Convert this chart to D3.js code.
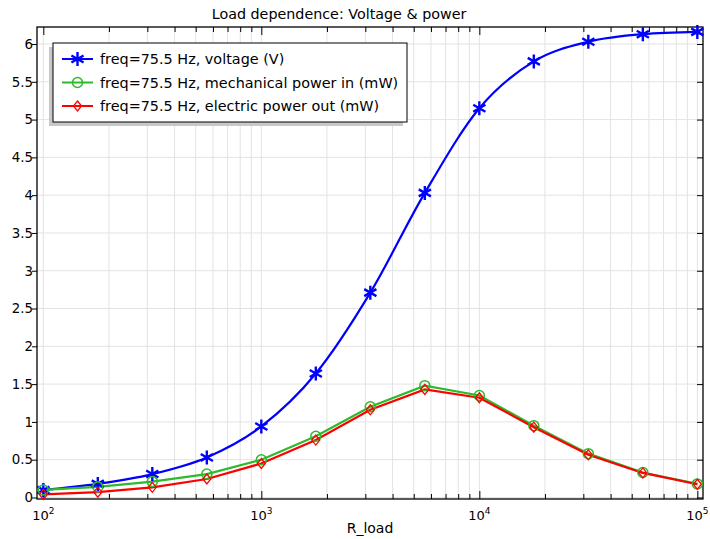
<!DOCTYPE html>
<html><head><meta charset="utf-8">
<script src="https://cdn.jsdelivr.net/npm/d3@7"></script>
<style>body{margin:0;background:#fff;} text{font-family:"DejaVu Sans",sans-serif;}</style>
</head><body>
<svg id="c" width="710" height="539"></svg>
<script>
const rLoad = [100, 177.8, 316.2, 562.3, 1000, 1778, 3162, 5623, 10000, 17783, 31623, 56234, 100000];
const voltage = [0.10, 0.18, 0.31, 0.53, 0.94, 1.64, 2.71, 4.03, 5.15, 5.77, 6.03, 6.13, 6.16];
const mechPower = [0.10, 0.14, 0.21, 0.31, 0.50, 0.81, 1.20, 1.48, 1.35, 0.95, 0.58, 0.33, 0.18];
const elecPower = [0.04, 0.07, 0.135, 0.245, 0.45, 0.76, 1.16, 1.43, 1.32, 0.93, 0.565, 0.325, 0.175];
const seriesNames = ["freq=75.5 Hz, voltage (V)", "freq=75.5 Hz, mechanical power in (mW)", "freq=75.5 Hz, electric power out (mW)"];
const yTicks = [0, 0.5, 1, 1.5, 2, 2.5, 3, 3.5, 4, 4.5, 5, 5.5, 6];
const xMajor = [100, 1000, 10000, 100000];
const xExp = ["2", "3", "4", "5"];

const svg = d3.select("#c");
const L = 37, R = 703, T = 27, B = 499;
const x = d3.scaleLog().domain([Math.pow(10, 1.971), Math.pow(10, 5.026)]).range([L, R]);
const y = d3.scaleLinear().domain([-0.02, 6.225]).range([B, T]);

const xMinor = [];
for (let d = 100; d <= 10000; d *= 10) for (let k = 2; k <= 9; k++) xMinor.push(d * k);

// grid
const g = svg.append("g");
g.selectAll("line.vg").data(xMinor.concat(xMajor)).join("line")
  .attr("x1", d => x(d)).attr("x2", d => x(d)).attr("y1", T).attr("y2", B)
  .attr("stroke", "#e3e3e3").attr("stroke-width", 1);
g.selectAll("line.hg").data(yTicks).join("line")
  .attr("x1", L).attr("x2", R).attr("y1", d => y(d)).attr("y2", d => y(d))
  .attr("stroke", "#e3e3e3").attr("stroke-width", 1);

// axes (ticks inward, mirrored)
const axB = d3.axisBottom(x).tickValues(xMajor).tickSize(-8).tickFormat("");
const axBm = d3.axisBottom(x).tickValues(xMinor).tickSize(-5).tickFormat("");
const axT = d3.axisTop(x).tickValues(xMajor).tickSize(-8).tickFormat("");
const axTm = d3.axisTop(x).tickValues(xMinor).tickSize(-5).tickFormat("");
const axL = d3.axisLeft(y).tickValues(yTicks).tickSize(6).tickFormat(d3.format("~g"));
const axR = d3.axisRight(y).tickValues(yTicks).tickSize(-6).tickFormat("");
function styleAx(sel){ sel.select(".domain").remove(); sel.selectAll("line").attr("stroke","#000"); }
svg.append("g").attr("transform",`translate(0,${B})`).call(axB).call(styleAx);
svg.append("g").attr("transform",`translate(0,${B})`).call(axBm).call(styleAx);
svg.append("g").attr("transform",`translate(0,${T})`).call(axT).call(styleAx);
svg.append("g").attr("transform",`translate(0,${T})`).call(axTm).call(styleAx);
const gl = svg.append("g").attr("transform",`translate(${L},0)`).call(axL).call(styleAx);
gl.selectAll("text").attr("font-size", 13.4).attr("font-family","DejaVu Sans").attr("fill","#000").attr("x", -4);
gl.selectAll("line").attr("x2", -5);
svg.append("g").attr("transform",`translate(${R},0)`).call(axR).call(styleAx);

// x tick labels 10^n
const xl = svg.append("g");
xMajor.forEach((v, i) => {
  const t = xl.append("text").attr("x", x(v)).attr("y", 520).attr("text-anchor","middle").attr("font-size", 13);
  t.append("tspan").text("10");
  t.append("tspan").attr("dy", -6).attr("font-size", 9).text(xExp[i]);
});

// frame
svg.append("rect").attr("x", L).attr("y", T).attr("width", R - L).attr("height", B - T)
  .attr("fill","none").attr("stroke","#000").attr("stroke-width", 1.3);

// title & axis label
svg.append("text").attr("x", 339).attr("y", 19).attr("text-anchor","middle").attr("font-size", 14.3).text("Load dependence: Voltage & power");
svg.append("text").attr("x", 370).attr("y", 533).attr("text-anchor","middle").attr("font-size", 14).text("R_load");

const colors = ["#0000ff", "#2dba2d", "#ff0000"];
const datasets = [voltage, mechPower, elecPower];

function drawMarker(sel, i, cx, cy) {
  if (i === 0) {
    const s = 7;
    const p = d3.path();
    p.moveTo(cx, cy - s); p.lineTo(cx, cy + s);
    p.moveTo(cx - s*0.87, cy - s*0.5); p.lineTo(cx + s*0.87, cy + s*0.5);
    p.moveTo(cx - s*0.87, cy + s*0.5); p.lineTo(cx + s*0.87, cy - s*0.5);
    sel.append("path").attr("d", p.toString()).attr("stroke", colors[0]).attr("stroke-width", 2.4).attr("fill","none");
  } else if (i === 1) {
    sel.append("circle").attr("cx", cx).attr("cy", cy).attr("r", 5).attr("fill","none").attr("stroke", colors[1]).attr("stroke-width", 1.5);
  } else {
    const s = 5;
    sel.append("path").attr("d", `M${cx},${cy-s}L${cx+s*0.8},${cy}L${cx},${cy+s}L${cx-s*0.8},${cy}Z`)
      .attr("fill","none").attr("stroke", colors[2]).attr("stroke-width", 1.3);
  }
}

const plot = svg.append("g");
datasets.forEach((vals, i) => {
  const line = d3.line().x((d, j) => x(rLoad[j])).y(d => y(d))
    .curve(i === 0 ? d3.curveMonotoneX : d3.curveLinear);
  plot.append("path").datum(vals).attr("d", line).attr("fill","none").attr("stroke", colors[i]).attr("stroke-width", 2.2);
});
datasets.forEach((vals, i) => {
  const mg = plot.append("g");
  vals.forEach((v, j) => drawMarker(mg, i, x(rLoad[j]), y(v)));
});

// legend
const lg = svg.append("g");
lg.append("rect").attr("x", 49).attr("y", 47).attr("width", 354).attr("height", 79).attr("fill","#c8c8c8");
lg.append("rect").attr("x", 53).attr("y", 43).attr("width", 354).attr("height", 79).attr("fill","#fff").attr("stroke","#000").attr("stroke-width", 1);
seriesNames.forEach((n, i) => {
  const yy = 59 + i * 23.5;
  lg.append("line").attr("x1", 62).attr("x2", 93).attr("y1", yy).attr("y2", yy).attr("stroke", colors[i]).attr("stroke-width", 2);
  drawMarker(lg, i, 77.5, yy);
  lg.append("text").attr("x", 100).attr("y", yy + 5).attr("font-size", 14.4).text(n);
});
</script>
</body></html>
